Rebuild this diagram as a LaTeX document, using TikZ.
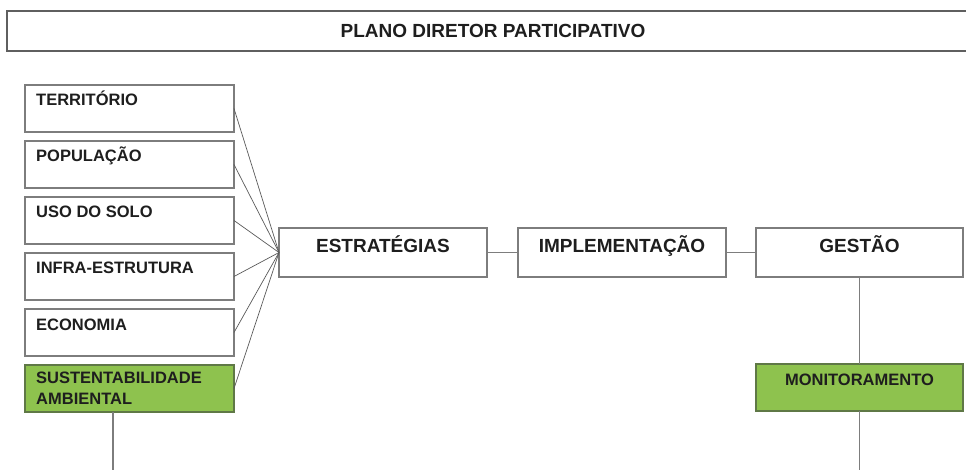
\documentclass[tikz,border=0pt]{standalone}
\usepackage{fontspec}
\setmainfont{Liberation Sans}
\definecolor{boxline}{RGB}{125,125,125}
\definecolor{titleline}{RGB}{95,95,95}
\definecolor{conline}{RGB}{90,90,90}
\definecolor{txt}{RGB}{30,30,30}
\definecolor{greenfill}{RGB}{142,194,78}
\definecolor{greenline}{RGB}{95,120,70}
\begin{document}
\begin{tikzpicture}[x=1pt,y=-1pt,
  box/.style={draw=boxline,line width=1.1pt,fill=white,rectangle,inner sep=0pt,outer sep=0pt},
  gbox/.style={box,fill=greenfill,draw=greenline},
  lefttxt/.style={anchor=base west,inner sep=0pt,text=txt,font=\bfseries\fontsize{16.5}{21}\selectfont,align=left},
  midtxt/.style={anchor=base,inner sep=0pt,text=txt,font=\bfseries\fontsize{19}{23}\selectfont},
  montxt/.style={anchor=base,inner sep=0pt,text=txt,font=\bfseries\fontsize{16.5}{21}\selectfont},
  conn/.style={draw=conline,line width=0.7pt},
  link/.style={draw=boxline,line width=1.1pt}]
\useasboundingbox (0,0) rectangle (966,470);
\clip (0,0) rectangle (966,470);
\fill[white] (0,0) rectangle (966,470);
% title
\node[draw=titleline,line width=2pt,fill=white,minimum width=974pt,minimum height=40pt,inner sep=0pt] (title) at (494,31.5) {};
\node[anchor=base,inner sep=0pt,text=txt,font=\bfseries\fontsize{19}{23}\selectfont] (titletxt) at (493,38) {PLANO DIRETOR PARTICIPATIVO};
% left boxes
\node[box,minimum width=209pt,minimum height=47pt] (b1) at (129.5,108.5) {};
\node[box,minimum width=209pt,minimum height=47pt] (b2) at (129.5,164.5) {};
\node[box,minimum width=209pt,minimum height=47pt] (b3) at (129.5,220.5) {};
\node[box,minimum width=209pt,minimum height=47pt] (b4) at (129.5,276.5) {};
\node[box,minimum width=209pt,minimum height=47pt] (b5) at (129.5,332.5) {};
\node[gbox,minimum width=209pt,minimum height=47pt] (b6) at (129.5,388.5) {};
\node[lefttxt] (t1) at (36,106) {TERRITÓRIO};
\node[lefttxt] (t2) at (36,162) {POPULAÇÃO};
\node[lefttxt] (t3) at (36,218) {USO DO SOLO};
\node[lefttxt] (t4) at (36,274) {INFRA-ESTRUTURA};
\node[lefttxt] (t5) at (36,330) {ECONOMIA};
\node[lefttxt] (t6) at (36,383) {SUSTENTABILIDADE};
\node[lefttxt] (t6b) at (36,404) {AMBIENTAL};
% middle row
\node[box,minimum width=208pt,minimum height=49pt] (est) at (383,252.5) {};
\node[box,minimum width=208pt,minimum height=49pt] (imp) at (622,252.5) {};
\node[box,minimum width=207pt,minimum height=49pt] (ges) at (859.5,252.5) {};
\node[midtxt] (testr) at (383,253) {ESTRATÉGIAS};
\node[midtxt] (timp) at (622,253) {IMPLEMENTAÇÃO};
\node[midtxt] (tges) at (859.5,253) {GESTÃO};
% monitoramento
\node[gbox,minimum width=207pt,minimum height=47pt] (mon) at (859.5,387.5) {};
\node[montxt] (tmon) at (859.5,385) {MONITORAMENTO};
% connectors
\foreach \b in {b1,b2,b3,b4,b5,b6} \draw[conn] (\b.east) -- (est.west);
\draw[link] (est.east) -- (imp.west);
\draw[link] (imp.east) -- (ges.west);
\draw[link] (ges.south) -- (mon.north);
\coordinate (mdown) at (859.5,472);
\draw[link] (mon.south) -- (mdown);
\coordinate (sdown) at (113,472);
\draw[link] (b6.south -| sdown) -- (sdown);
\end{tikzpicture}
\end{document}
